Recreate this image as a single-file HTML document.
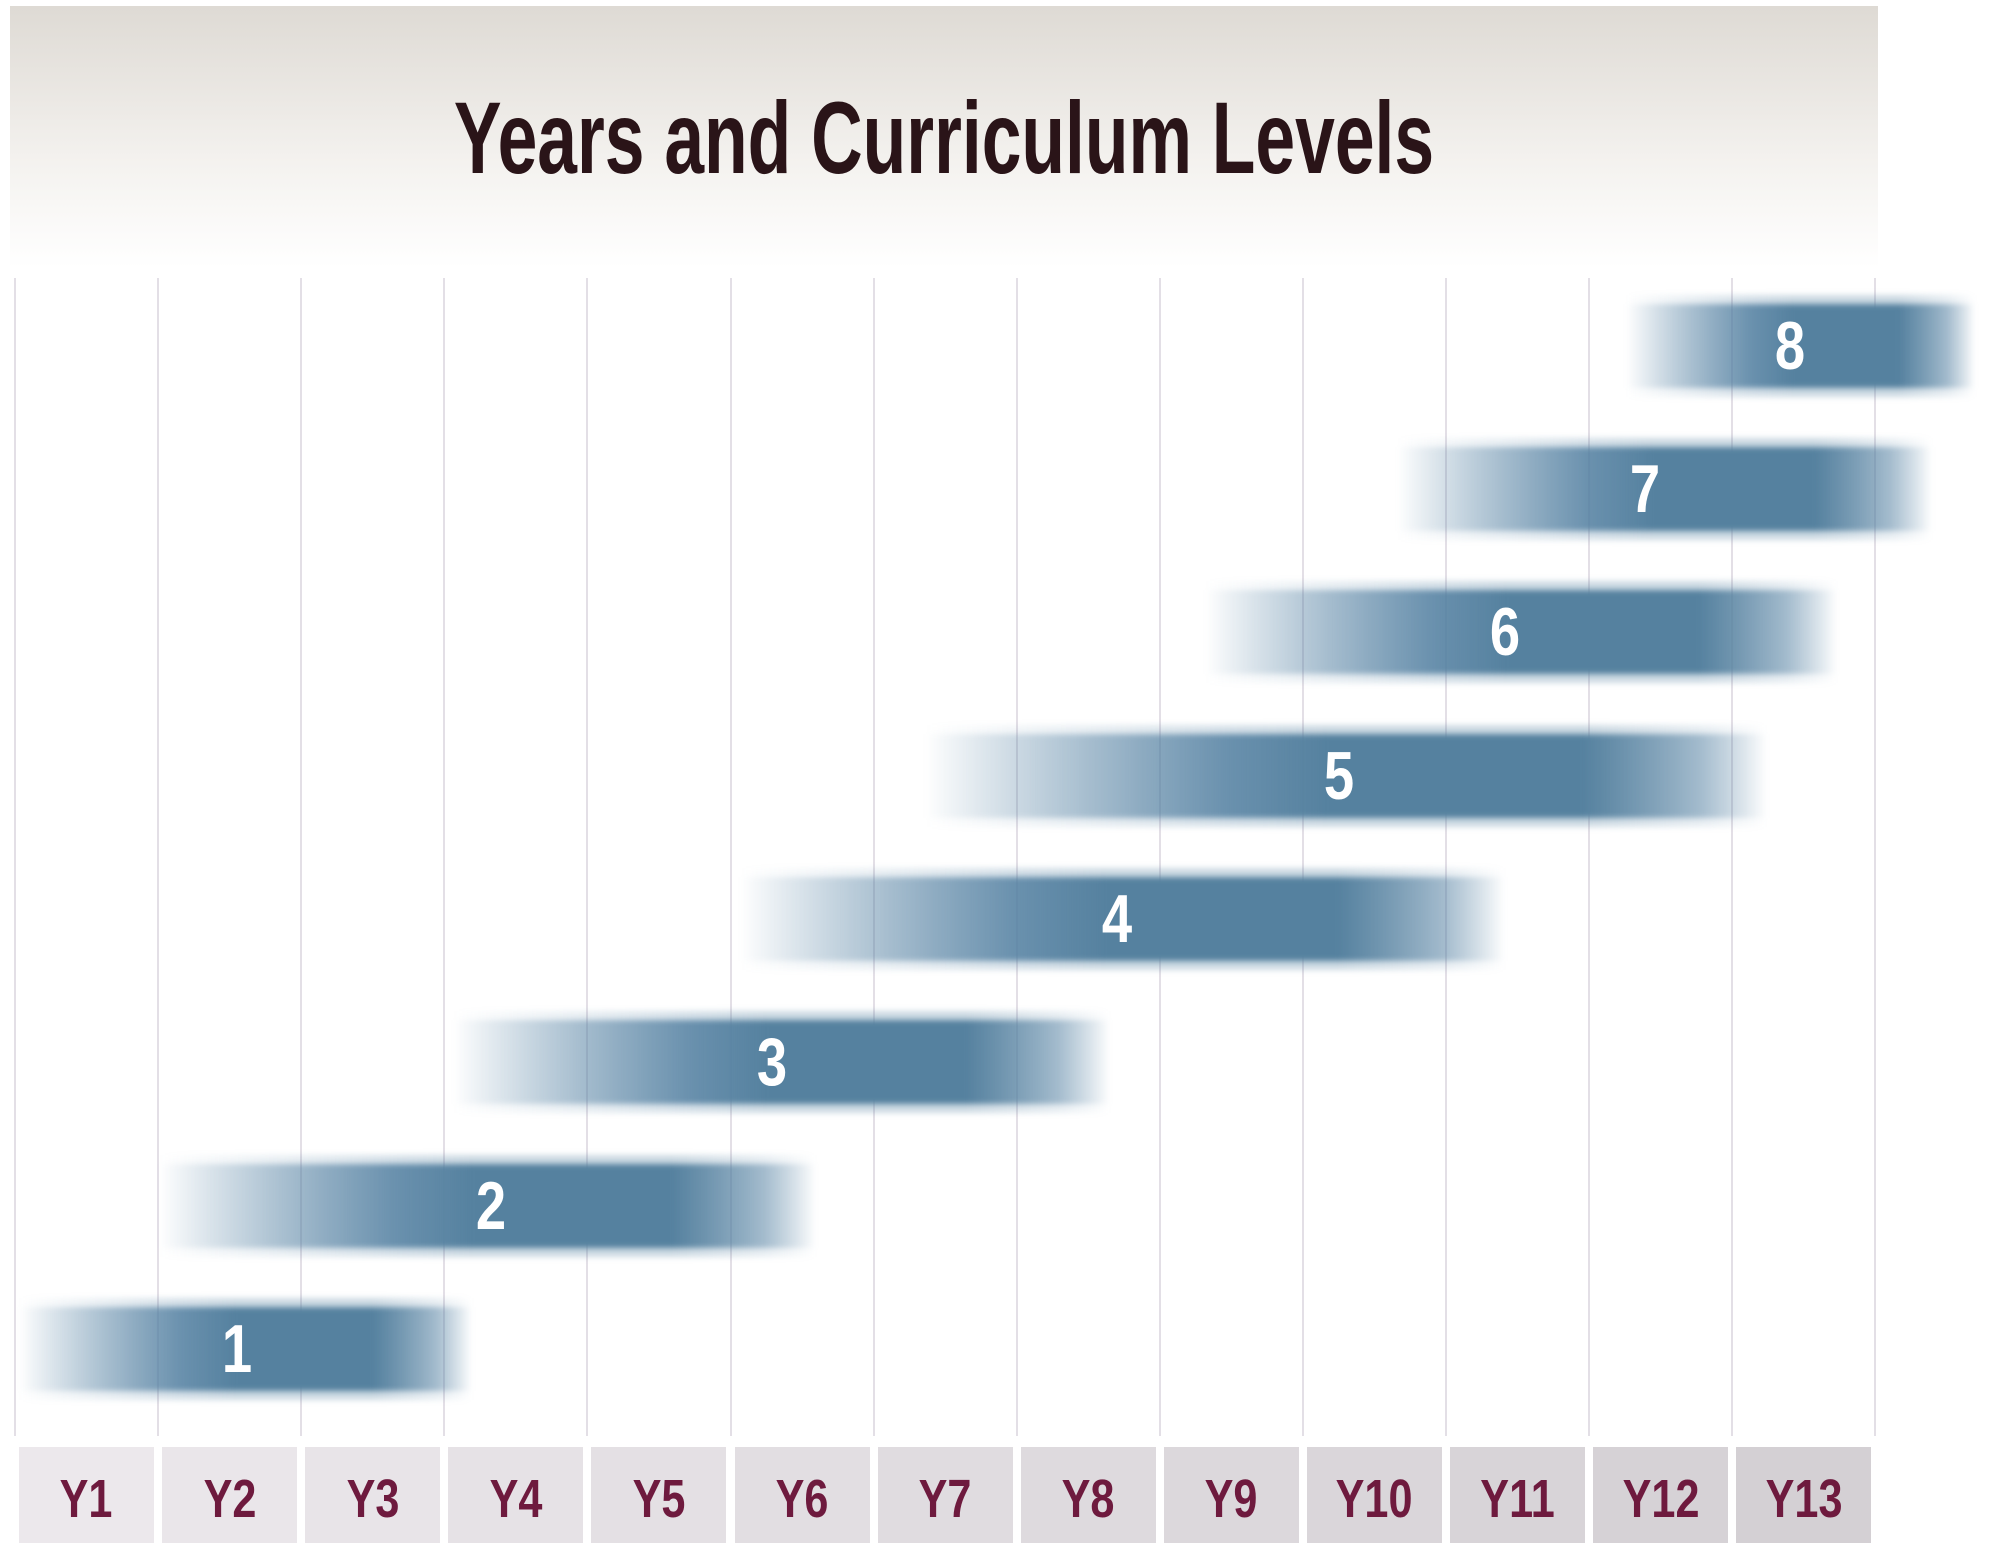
<!DOCTYPE html>
<html><head><meta charset="utf-8"><style>
body{margin:0;width:2000px;height:1565px;background:#fff;position:relative;overflow:hidden;font-family:"Liberation Sans",sans-serif}
.hdr{position:absolute;left:10px;top:6px;width:1868px;height:262px;background:linear-gradient(#dedad4,#f4f2ef 60%,#fff)}
.title{position:absolute;left:0;top:74px;width:1868px;text-align:center;font-weight:bold;font-size:102px;color:#2a1418;transform:scaleX(0.7);}
.g{position:absolute;top:278px;height:1158px;width:2px;background:#e3dfe6}
.b{position:absolute;height:84px;filter:blur(3px)}
.b::before{content:"";position:absolute;left:0;right:0;top:-9px;bottom:-9px;background:inherit;opacity:.3}
.n{position:absolute;color:#fff;font-weight:bold;font-size:68px;transform:translateX(-50%) scaleX(0.8);line-height:1}
.l{position:absolute;top:1447px;height:96px;font-weight:bold;font-size:54px;color:#6e1a3e;text-align:center;line-height:104px}
.l span{display:inline-block;transform:scaleX(0.8)}
</style></head><body>
<div class="hdr"><div class="title">Years and Curriculum Levels</div></div>
<div id="grid"></div>
<script>
var h='';
for(var i=0;i<14;i++){h+='<div class="g" style="left:'+(14+143.1*i)+'px"></div>';}
for(var i=0;i<13;i++){var c=236-i*2;h+='<div class="l" style="left:'+(19+143.1*i)+'px;width:135px;background:rgb('+c+','+(c-4)+','+c+')"><span>Y'+(i+1)+'</span></div>';}
var bars=[[19,472,1349,237,'1'],[159,816,1206,491,'2'],[453,1110,1062,772,'3'],[740,1505,919,1117,'4'],[925,1767,776,1339,'5'],[1205,1837,632,1505,'6'],[1397,1932,489,1645,'7'],[1626,1975,346,1790,'8']];
bars.forEach(function(b){
 var w=b[1]-b[0];
 h+='<div class="b" style="left:'+b[0]+'px;top:'+(b[2]-42)+'px;width:'+w+'px;background:linear-gradient(90deg,rgba(79,125,159,0) 0%,rgba(79,125,159,.4) 18%,rgba(79,125,159,.8) 36%,#55819f 48%,#55819f 78%,rgba(79,125,159,.45) 92%,rgba(79,125,159,0) 100%)"></div>';
 h+='<div class="n" style="left:'+b[3]+'px;top:'+(b[2]-34)+'px">'+b[4]+'</div>';
});
document.getElementById('grid').innerHTML=h;
</script>
</body></html>
